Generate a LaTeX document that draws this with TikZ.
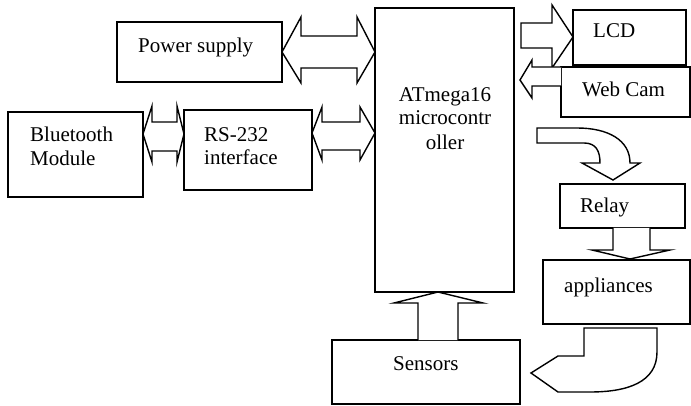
\documentclass[tikz,border=0pt]{standalone}
\usepackage{fontspec}
\setmainfont{Liberation Serif}
\begin{document}
\begin{tikzpicture}[x=1pt,y=-1pt,
  box/.style={draw,line width=1.4pt,anchor=north west,inner sep=0pt,outer sep=0pt},
  lbl/.style={anchor=base west,inner sep=0pt,font=\fontsize{21}{24}\selectfont},
  barrow/.style={draw,line width=1.4pt,line join=miter,fill=white}]
\useasboundingbox (0,0) rectangle (691,406);
% boxes
\node[box,minimum width=165pt,minimum height=60pt] (ps) at (117,22) {};
\node[box,minimum width=135pt,minimum height=85pt] (bt) at (8,112) {};
\node[box,minimum width=128pt,minimum height=80pt] (rs) at (184,110) {};
\node[box,minimum width=139pt,minimum height=284pt] (mc) at (375,8) {};
\node[box,minimum width=113pt,minimum height=55pt] (lcd) at (573,10) {};
\node[box,fill=white,minimum width=129pt,minimum height=50pt] (wc) at (561,67) {};
\node[box,minimum width=125pt,minimum height=44pt] (rl) at (560,184) {};
\node[box,minimum width=147pt,minimum height=64pt] (ap) at (543,260) {};
\node[box,minimum width=188pt,minimum height=64pt] (sn) at (332,340) {};
% labels
\node[lbl] (tps) at (138,53) {Power supply};
\node[lbl] (tbt1) at (30,142) {Bluetooth};
\node[lbl] (tbt2) at (30,166) {Module};
\node[lbl] (trs1) at (204,142) {RS-232};
\node[lbl] (trs2) at (204,165) {interface};
\node[lbl,anchor=base] (tmc1) at (445,102) {ATmega16};
\node[lbl,anchor=base] (tmc2) at (445,125) {microcontr};
\node[lbl,anchor=base] (tmc3) at (445,150) {oller};
\node[lbl] (tlcd) at (593,38) {LCD};
\node[lbl] (twc) at (582,97) {Web Cam};
\node[lbl] (trl) at (580,213) {Relay};
\node[lbl] (tap) at (564,293) {appliances};
\node[lbl] (tsn) at (393,370) {Sensors};
% double arrows
\draw[barrow] (ps.east |- 0,52) -- (301,17) -- (301,36) -- (357,36) -- (357,17) -- (mc.west |- 0,52)
  -- (357,83) -- (357,68) -- (301,68) -- (301,83) -- cycle;
\draw[barrow] (bt.east |- 0,134) -- (152,106) -- (152,122) -- (177,122) -- (177,106) -- (rs.west |- 0,134)
  -- (177,162) -- (177,151) -- (152,151) -- (152,162) -- cycle;
\draw[barrow] (rs.east |- 0,133) -- (322,107) -- (322,122) -- (360,122) -- (360,107) -- (mc.west |- 0,133)
  -- (360,160) -- (360,150) -- (322,150) -- (322,160) -- cycle;
% LCD arrow
\draw[barrow] (521,23) -- (552,23) -- (552,5) -- (lcd.west |- 0,37) -- (552,68) -- (552,48) -- (521,48) -- cycle;
% Web cam arrow
\draw[barrow] (wc.west |- 0,67) -- (532,67) -- (532,60) -- (520,80) -- (532,98) -- (532,86) -- (wc.west |- 0,86);
% curved arrow to relay
\draw[barrow] (537,128) -- (577,128) .. controls (608,128) and (630,140) .. (630,163) -- (640,163)
  -- (613,180) -- (582,163) -- (600,163) .. controls (600,151) and (596,143) .. (584,143) -- (537,143) -- cycle;
% relay -> appliances
\draw[barrow] (613,228) -- (613,250) -- (592,250) -- (630,259) -- (670,250) -- (650,250) -- (650,228);
% sensors -> mc
\draw[barrow] (418,340) -- (418,303) -- (394,303) -- (mc.south -| 438,0) -- (483,303) -- (458,303) -- (458,340);
% appliances -> sensors curved arrow
\draw[barrow] (584,328) -- (657,328) -- (657,352) .. controls (657,382) and (628,392) .. (590,392) -- (558,392)
  -- (531,373) -- (558,356) -- (584,356) -- cycle;
\end{tikzpicture}
\end{document}
